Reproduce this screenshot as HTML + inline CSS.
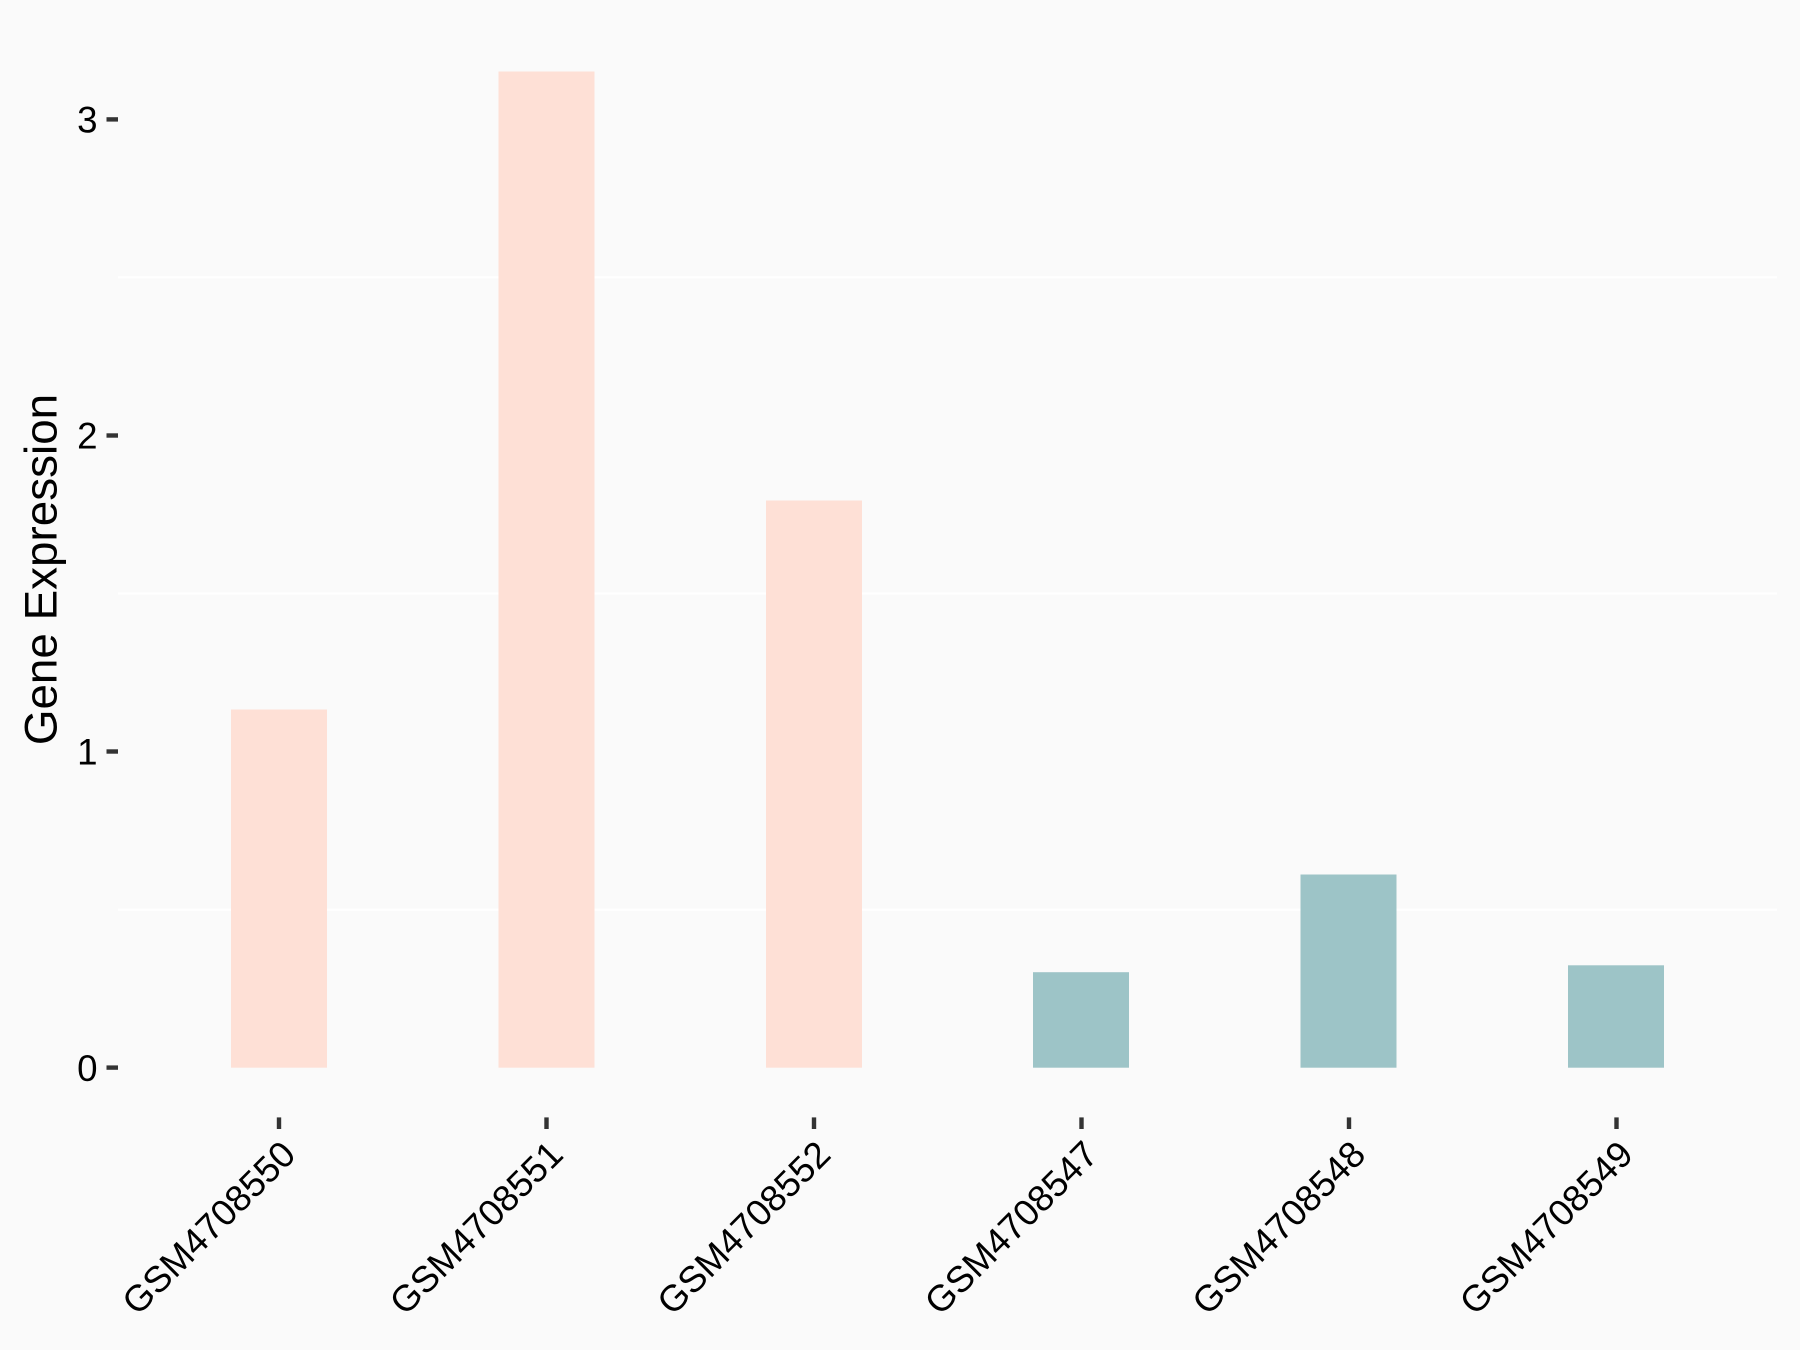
<!DOCTYPE html>
<html><head><meta charset="utf-8"><style>
html,body{margin:0;padding:0;background:#FAFAFA;}
svg{display:block;}
text{font-family:"Liberation Sans",Arial,sans-serif;fill:#000;}
</style></head><body>
<svg width="1800" height="1350" viewBox="0 0 1800 1350" xmlns="http://www.w3.org/2000/svg">
<rect x="0" y="0" width="1800" height="1350" fill="#FAFAFA"/>
<!-- minor grid -->
<g stroke="#FFFFFF" stroke-width="2.2">
<line x1="118" y1="277.4" x2="1777" y2="277.4"/>
<line x1="118" y1="593.5" x2="1777" y2="593.5"/>
<line x1="118" y1="909.6" x2="1777" y2="909.6"/>
</g>
<!-- bars -->
<rect x="231" y="709.5" width="96" height="358.2" fill="#FEE0D6"/>
<rect x="498.5" y="71.5" width="96" height="996.2" fill="#FEE0D6"/>
<rect x="766" y="500.5" width="96" height="567.2" fill="#FEE0D6"/>
<rect x="1033" y="972.2" width="96" height="95.5" fill="#9DC4C7"/>
<rect x="1300.5" y="874.5" width="96" height="193.2" fill="#9DC4C7"/>
<rect x="1568" y="965.3" width="96" height="102.4" fill="#9DC4C7"/>
<!-- y ticks -->
<g stroke="#333333" stroke-width="4.4">
<line x1="106.5" y1="1067.6" x2="118" y2="1067.6"/>
<line x1="106.5" y1="751.5" x2="118" y2="751.5"/>
<line x1="106.5" y1="435.5" x2="118" y2="435.5"/>
<line x1="106.5" y1="119.4" x2="118" y2="119.4"/>
</g>
<g font-size="36.7" text-anchor="end">
<text x="97.5" y="1080.8">0</text>
<text x="97.5" y="764.7">1</text>
<text x="97.5" y="448.7">2</text>
<text x="97.5" y="132.6">3</text>
</g>
<!-- x ticks -->
<g stroke="#333333" stroke-width="4.4">
<line x1="279" y1="1117.4" x2="279" y2="1129"/>
<line x1="546.5" y1="1117.4" x2="546.5" y2="1129"/>
<line x1="814" y1="1117.4" x2="814" y2="1129"/>
<line x1="1081.5" y1="1117.4" x2="1081.5" y2="1129"/>
<line x1="1349" y1="1117.4" x2="1349" y2="1129"/>
<line x1="1616.5" y1="1117.4" x2="1616.5" y2="1129"/>
</g>
<g font-size="36.7" text-anchor="end">
<text transform="translate(279,1138) rotate(-45)" x="0" y="26.3">GSM4708550</text>
<text transform="translate(546.5,1138) rotate(-45)" x="0" y="26.3">GSM4708551</text>
<text transform="translate(814,1138) rotate(-45)" x="0" y="26.3">GSM4708552</text>
<text transform="translate(1081.5,1138) rotate(-45)" x="0" y="26.3">GSM4708547</text>
<text transform="translate(1349,1138) rotate(-45)" x="0" y="26.3">GSM4708548</text>
<text transform="translate(1616.5,1138) rotate(-45)" x="0" y="26.3">GSM4708549</text>
</g>
<!-- y title -->
<text transform="translate(56.5,569.5) rotate(-90)" x="0" y="0" font-size="45.8" text-anchor="middle">Gene Expression</text>
</svg>
</body></html>
